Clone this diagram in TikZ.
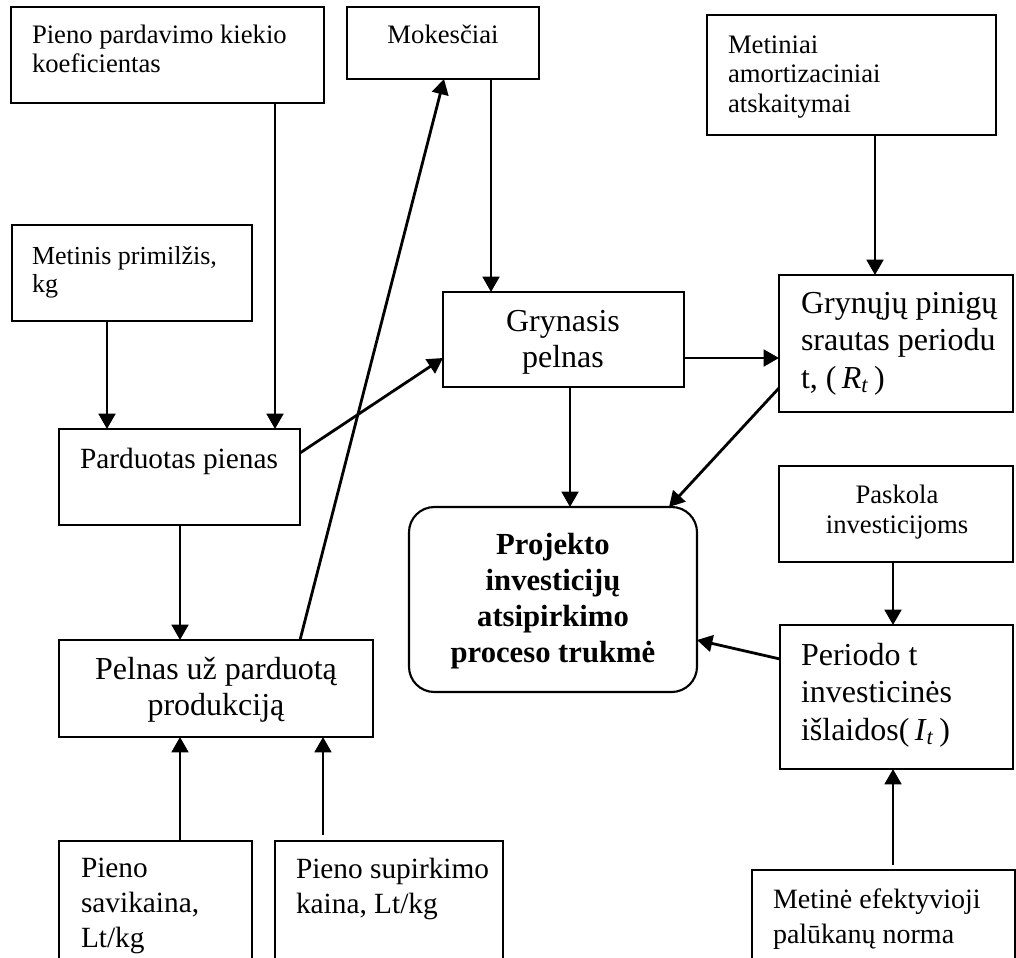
\documentclass[tikz,border=0pt]{standalone}
\usepackage{fontspec}
\setmainfont{Liberation Serif}
\usetikzlibrary{arrows.meta}
% rectangular box given by its top-left corner and its size (pixel units)
\newcommand\drawbox[6][]{\node[box,#1, minimum width=#5*0.75pt, minimum height=#6*0.75pt] (#2) at (#3,#4) {};}
\begin{document}
\begin{tikzpicture}[x=0.75pt,y=-0.75pt,
  box/.style={draw, line width=1.6pt, inner sep=0pt, outer sep=0pt, anchor=north west},
  arr/.style={line width=2.1pt, -{Triangle[length=11.5pt,width=12.5pt]}},
  lbl/.style={inner sep=0pt, outer sep=0pt},
  fa/.style={font=\fontsize{20}{21.75}\selectfont},
  fb/.style={font=\fontsize{20}{22}\selectfont},
  fc/.style={font=\fontsize{24}{26.5}\selectfont},
  fd/.style={font=\fontsize{24}{28}\selectfont},
  fe/.style={font=\fontsize{22}{26}\selectfont},
  ff/.style={font=\bfseries\fontsize{23}{27}\selectfont},
]
\useasboundingbox (0,0) rectangle (1016,957);
\clip (0,0) rectangle (1016,957);

% boxes
\drawbox{koef}{11}{7}{313}{96}
\drawbox{mok}{347}{7}{192}{72}
\drawbox{amort}{707}{15}{289}{120}
\drawbox{primilzis}{12}{225}{240}{96}
\drawbox{gryn}{443}{292}{241}{95}
\drawbox{srautas}{779}{275}{234}{137}
\drawbox{parduotas}{59}{429}{241}{96}
\drawbox[rounded corners=19pt]{proj}{409}{507}{288}{185}
\drawbox{paskola}{779}{466}{234}{96}
\drawbox{pelnas}{59}{640}{314}{97}
\drawbox{islaidos}{780}{625}{233}{144}
\drawbox{savikaina}{59}{841}{193}{140}
\drawbox{supirkimo}{275}{841}{228}{140}
\drawbox{norma}{752}{870}{263}{120}

% texts (multi-line nodes are placed by the baseline of their last line)
\node[lbl, fa, anchor=base west, align=left] (t-koef) at (32,72) {Pieno pardavimo kiekio\\koeficientas};
\node[lbl, fa, anchor=base] (t-mok) at (443,43) {Mokesčiai};
\node[lbl, fb, anchor=base west, align=left] (t-amort) at (728,112) {Metiniai\\amortizaciniai\\atskaitymai};
\node[lbl, font=\fontsize{19.5}{20.5}\selectfont, anchor=base west, align=left] (t-primilzis) at (32,292) {Metinis primilžis,\\kg};
\node[lbl, fc, anchor=base, align=center] (t-gryn) at (563,367) {Grynasis\\pelnas};
\node[lbl, fd, anchor=base west, align=left] (t-srautas) at (801,388) {Grynųjų pinigų\\srautas periodu\\t, (\,\textit{R}\textsubscript{\textit{t}}\,)};
\node[lbl, fe, anchor=base] (t-parduotas) at (179,468) {Parduotas pienas};
\node[lbl, ff, anchor=base, align=center] (t-proj) at (553,662) {Projekto\\investicijų\\atsipirkimo\\proceso trukmė};
\node[lbl, fb, anchor=base, align=center] (t-paskola) at (897,533) {Paskola\\investicijoms};
\node[lbl, fc, anchor=base, align=center] (t-pelnas) at (216,715) {Pelnas už parduotą\\produkciją};
\node[lbl, fd, anchor=base west, align=left] (t-islaidos) at (801,740) {Periodo t\\investicinės\\išlaidos(\,\textit{I}\textsubscript{\textit{t}}\,)};
\node[lbl, fe, anchor=base west, align=left] (t-savikaina) at (81,947) {Pieno\\savikaina,\\Lt/kg};
\node[lbl, fe, anchor=base west, align=left] (t-supirkimo) at (296,913) {Pieno supirkimo\\kaina, Lt/kg};
\node[lbl, font=\fontsize{21}{26}\selectfont, anchor=base west, align=left] (t-norma) at (773,943) {Metinė efektyvioji\\palūkanų norma};

% connectors
\draw[arr] (275,0 |- koef.south) -- (275,0 |- parduotas.north);
\draw[arr] (107,0 |- primilzis.south) -- (107,0 |- parduotas.north);
\draw[arr] (491,0 |- mok.south) -- (491,0 |- gryn.north);
\draw[arr] (875,0 |- amort.south) -- (875,0 |- srautas.north);
\draw[arr] (parduotas.east |- 0,453) -- (gryn.west |- 0,358);
\draw[arr] (gryn.east |- 0,358) -- (srautas.west |- 0,358);
\draw[arr] (570,0 |- gryn.south) -- (570,0 |- proj.north);
\draw[arr] (srautas.west |- 0,388) -- (669,0 |- proj.north);
\draw[arr] (300,0 |- pelnas.north) -- (444,0 |- mok.south);
\draw[arr] (180,0 |- parduotas.south) -- (180,0 |- pelnas.north);
\draw[arr] (180,0 |- savikaina.north) -- (180,0 |- pelnas.south);
\draw[arr, shorten <=4.5pt] (323,0 |- supirkimo.north) -- (323,0 |- pelnas.south);
\draw[arr] (893,0 |- paskola.south) -- (893,0 |- islaidos.north);
\draw[arr, shorten <=4pt] (893,0 |- norma.north) -- (893,0 |- islaidos.south);
\draw[arr] (islaidos.west |- 0,659) -- (proj.east |- 0,640);
\end{tikzpicture}
\end{document}
